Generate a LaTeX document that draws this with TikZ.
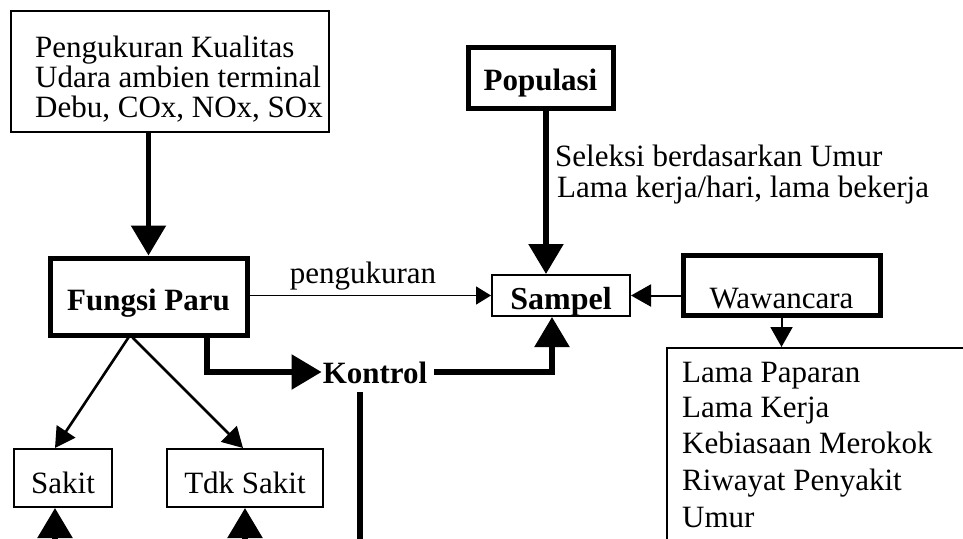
\documentclass[tikz,border=0pt]{standalone}
\usepackage{fontspec}
\setmainfont{Liberation Serif}
\usetikzlibrary{arrows.meta}
\begin{document}
\begin{tikzpicture}[x=1pt,y=-1pt,
  every node/.style={font=\fontsize{31}{30}\selectfont},
  thinbox/.style={draw, line width=2pt, inner sep=0pt},
  thickbox/.style={draw, line width=5pt, inner sep=0pt},
  txt/.style={inner sep=0pt, anchor=base west},
  bigarrow/.style={line width=5.5pt, -{Triangle[length=30pt,width=34pt]}},
  thickline/.style={line width=5.5pt},
  thinarrow/.style={line width=2.6pt, -{Triangle[length=20pt,width=22pt]}},
  midarrow/.style={line width=2pt, -{Triangle[length=20pt,width=22pt]}},
  smallarrow/.style={line width=1.6pt, -{Triangle[length=15pt,width=18pt]}}]
\useasboundingbox (0,0) rectangle (963,538);
% boxes
\node[thinbox, minimum width=318pt, minimum height=121pt] (kual) at (170,71.5) {};
\node[txt] (k1) at (35,57) {Pengukuran Kualitas};
\node[txt] (k2) at (35,87) {Udara ambien terminal};
\node[txt] (k3) at (35,117) {Debu, COx, NOx, SOx};
\node[thickbox, minimum width=197pt, minimum height=77pt, text height=52pt, text depth=25pt, font=\fontsize{31}{30}\selectfont\bfseries] (fungsi) at (148.5,296.5) {Fungsi Paru};
\node[thickbox, minimum width=145pt, minimum height=61pt, text height=43pt, text depth=18pt, font=\fontsize{31}{30}\selectfont\bfseries] (populasi) at (540.5,77.5) {Populasi};
\node[thinbox, minimum width=138pt, minimum height=41pt, text height=34pt, text depth=7pt, font=\fontsize{32}{30}\selectfont\bfseries] (sampel) at (561,295.5) {Sampel};
\node[thickbox, minimum width=197pt, minimum height=60pt, text height=53pt, text depth=7pt] (wawan) at (781.5,285) {Wawancara};
\node[inner xsep=1pt, inner ysep=0pt, text height=22pt, text depth=0pt, font=\fontsize{31}{30}\selectfont\bfseries] (kontrol) at (375,372) {Kontrol};
\node[thinbox, minimum width=98pt, minimum height=58pt, text height=44pt, text depth=14pt] (sakit) at (63,478) {Sakit};
\node[thinbox, minimum width=156pt, minimum height=58pt, text height=44pt, text depth=14pt] (tdk) at (245,478) {Tdk Sakit};
\node[thinbox, minimum width=303pt, minimum height=212pt] (list) at (818.5,454) {};
\node[txt] (l1) at (682,382) {Lama Paparan};
\node[txt] (l2) at (682,417) {Lama Kerja};
\node[txt] (l3) at (682,453) {Kebiasaan Merokok};
\node[txt] (l4) at (682,490) {Riwayat Penyakit};
\node[txt] (l5) at (682,527) {Umur};
% labels
\node[inner sep=0pt, anchor=base] (peng) at (363,283) {pengukuran};
\node[txt] (sel1) at (555,166) {Seleksi berdasarkan Umur};
\node[txt] (sel2) at (557,197) {Lama kerja/hari, lama bekerja};
% free ends
\coordinate (b1) at (55,545);
\coordinate (b2) at (245,545);
\coordinate (kb) at (360,392);
\coordinate (kbe) at (360,545);
% connectors
\draw[bigarrow] (kual.south -| fungsi.north) -- (fungsi.north);
\draw[bigarrow] ([xshift=5.5pt]populasi.south) -- ([xshift=-15pt]sampel.north);
\draw[smallarrow] (fungsi.east |- sampel.west) -- (sampel.west);
\draw[midarrow] (wawan.west |- sampel.east) -- (sampel.east);
\draw[midarrow] (wawan.south) -- (wawan.south |- list.north);
\draw[bigarrow] ([xshift=58.5pt]fungsi.south) |- (kontrol.west);
\draw[bigarrow] ([xshift=6pt]kontrol.east) -| ([xshift=-9pt]sampel.south);
\draw[thinarrow] ([xshift=-20pt]fungsi.south) -- ([xshift=-8pt]sakit.north);
\draw[thinarrow] ([xshift=-16pt]fungsi.south) -- ([xshift=-2pt]tdk.north);
\draw[bigarrow] (b1) -- (b1 |- sakit.south);
\draw[bigarrow] (b2) -- (b2 |- tdk.south);
\draw[thickline] (kb) -- (kbe);
\end{tikzpicture}
\end{document}
